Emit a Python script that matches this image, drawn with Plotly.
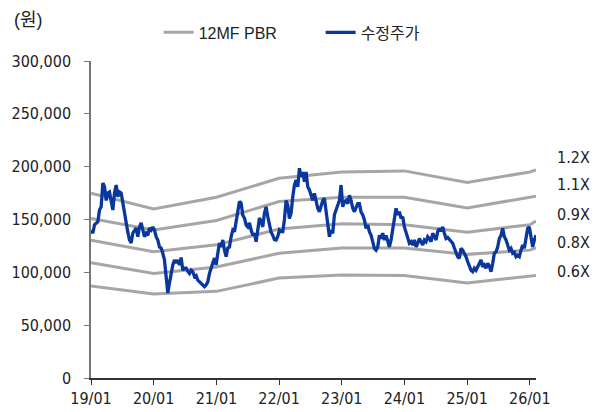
import pandas as pd
import plotly.graph_objects as go

# ---- data ----
band_dates = ["2019-01-01", "2020-01-01", "2021-01-01", "2022-01-01", "2023-01-01",
              "2024-01-01", "2025-01-01", "2026-01-01", "2026-02-06"]
band_labels = ["1.2X", "1.1X", "0.9X", "0.8X", "0.6X"]
band_12x = [175, 160, 171, 189, 195, 196, 185, 195, 197]
band_11x = [151, 140, 149, 167, 171, 171, 161, 170.5, 172]
band_09x = [130.5, 119.5, 126, 141, 146, 145, 138, 145, 148.5]
band_08x = [109, 99, 105, 118, 123, 123, 117, 121, 123]
band_06x = [87, 79.5, 82, 94.6, 97.4, 97, 90, 96.5, 97]

price_start = "2019-01-02"
price_end = "2026-02-06"
price_k = [
    140, 137, 145, 147, 148, 159, 162, 184.5, 181, 168, 175, 176, 167, 159, 175, 182.6,
    171.6, 176, 175, 165.6, 152.7, 146.7, 138, 130.6, 127.8, 137, 140, 142, 133.7, 143,
    146.7, 138, 133.7, 137, 135, 142, 140, 143, 140, 133.7, 130.6, 124, 123, 118, 111.7,
    96, 80.4, 90, 99, 107, 111.7, 108.8, 111.7, 107, 114, 102, 104, 104, 101, 99, 102,
    100.6, 96, 97, 92.7, 91, 89.6, 88, 86.4, 88, 91, 99, 103, 108.8, 113.5, 107, 118,
    127.7, 124, 130.6, 121, 114.8, 123, 124, 133.7, 140, 138.5, 148, 156, 167, 165.6,
    154, 151.4, 144.8, 143, 146.7, 140, 135, 137, 129, 140, 151.4, 148, 143, 156, 162,
    152.7, 143, 138, 135, 131, 130.6, 134, 140, 138.5, 138.5, 150, 168, 163.7, 151, 156,
    171.6, 182.6, 187.4, 181, 198.5, 190.5, 195, 185.8, 195, 181, 178, 171.6, 168, 174.8,
    167, 160.6, 157.4, 163.7, 168, 170, 155.9, 148, 133.7, 140, 137, 154.5, 159, 163.7,
    168, 182.6, 162, 167, 168, 165, 173, 168, 160.6, 157.4, 162, 165, 165, 157, 154.5,
    149.5, 141.6, 144.8, 138.5, 135, 129, 122.7, 121, 124, 135, 132, 137, 130.6, 135, 129,
    124, 130.6, 140, 151, 160.6, 154.5, 157.4, 151, 152.7, 143, 138.5, 132, 127.5, 129,
    125.9, 130.6, 124, 127.5, 132, 129, 125.9, 130.6, 129, 133.7, 132, 129, 137, 134,
    130.6, 138.5, 141.6, 139, 143, 137, 132, 133, 131, 129, 127.5, 123, 119.5, 114.8,
    113.3, 122.7, 121, 118, 114.8, 110, 105.3, 102, 100.6, 103.8, 102, 105.3, 107, 111.7,
    105.3, 107, 103.8, 108.5, 106, 100.6, 108.5, 118, 119.5, 124, 132, 135, 141.6, 133.7,
    130.6, 125.9, 121, 122.7, 118, 119, 114.8, 116.3, 115, 121, 125.9, 122.7, 132, 141.6,
    143, 135, 124, 130.6, 135,
]

y_tick_vals = [0, 50000, 100000, 150000, 200000, 250000, 300000]
y_tick_text = ["0", "50,000", "100,000", "150,000", "200,000", "250,000", "300,000"]
x_tick_vals = ["2019-01-01", "2020-01-01", "2021-01-01", "2022-01-01", "2023-01-01",
               "2024-01-01", "2025-01-01", "2026-01-01"]
x_tick_text = ["19/01", "20/01", "21/01", "22/01", "23/01", "24/01", "25/01", "26/01"]
label_pos_k = [209, 183.5, 155, 128.7, 101]

# ---- figure ----
FONT = "Liberation Sans Narrow, DejaVu Sans Condensed, Liberation Sans, Noto Sans CJK KR"
FONT_LEG = "Liberation Sans, Noto Sans CJK KR"
GRAY = "#A6A6A6"
BLUE = "#0A379E"

fig = go.Figure()
bands = [band_12x, band_11x, band_09x, band_08x, band_06x]
for i, b in enumerate(bands):
    fig.add_trace(go.Scatter(
        x=pd.to_datetime(band_dates), y=[v * 1000 for v in b], mode="lines",
        line=dict(color=GRAY, width=3), name="12MF PBR", legendgroup="pbr",
        showlegend=(i == 0), hoverinfo="skip"))

price_dates = pd.date_range(price_start, price_end, periods=len(price_k))
fig.add_trace(go.Scatter(
    x=price_dates, y=[v * 1000 for v in price_k], mode="lines",
    line=dict(color=BLUE, width=3.3), name="수정주가"))

for lab, yk in zip(band_labels, label_pos_k):
    fig.add_annotation(x=1.042, xref="paper", y=yk * 1000, yref="y", text=lab,
                       showarrow=False, xanchor="left", yanchor="middle",
                       font=dict(family=FONT, size=16, color="#222"))

fig.add_annotation(x=-0.178, xref="paper", y=1.13, yref="paper", text="(원)",
                   showarrow=False, xanchor="left", yanchor="middle",
                   font=dict(family=FONT_LEG, size=18, color="#222"))

fig.update_layout(
    width=592, height=404,
    margin=dict(l=83, r=64, t=53, b=34, autoexpand=False),
    paper_bgcolor="white", plot_bgcolor="white",
    font=dict(family=FONT, size=16, color="#222"),
    showlegend=True,
    legend=dict(orientation="h", x=0.152, xanchor="left", y=1.09, yanchor="middle",
                font=dict(family=FONT_LEG, size=16, color="#222"),
                bgcolor="rgba(0,0,0,0)", itemwidth=30, tracegroupgap=0,
                entrywidth=117, entrywidthmode="pixels"),
    xaxis=dict(type="date", range=["2019-01-01", "2026-02-06"], showgrid=False,
               tickvals=x_tick_vals, ticktext=x_tick_text, ticks="outside",
               ticklen=5, tickcolor="#333", showline=True, linecolor="#333",
               linewidth=1.5, zeroline=False, tickfont=dict(size=16)),
    yaxis=dict(range=[0, 300000], showgrid=False, tickvals=y_tick_vals,
               ticktext=y_tick_text, ticks="outside", ticklen=5, tickcolor="#777",
               showline=True, linecolor="#777", linewidth=1.5, zeroline=False,
               tickfont=dict(size=16), ticklabelstandoff=10),
)

fig.write_html("out.html")
